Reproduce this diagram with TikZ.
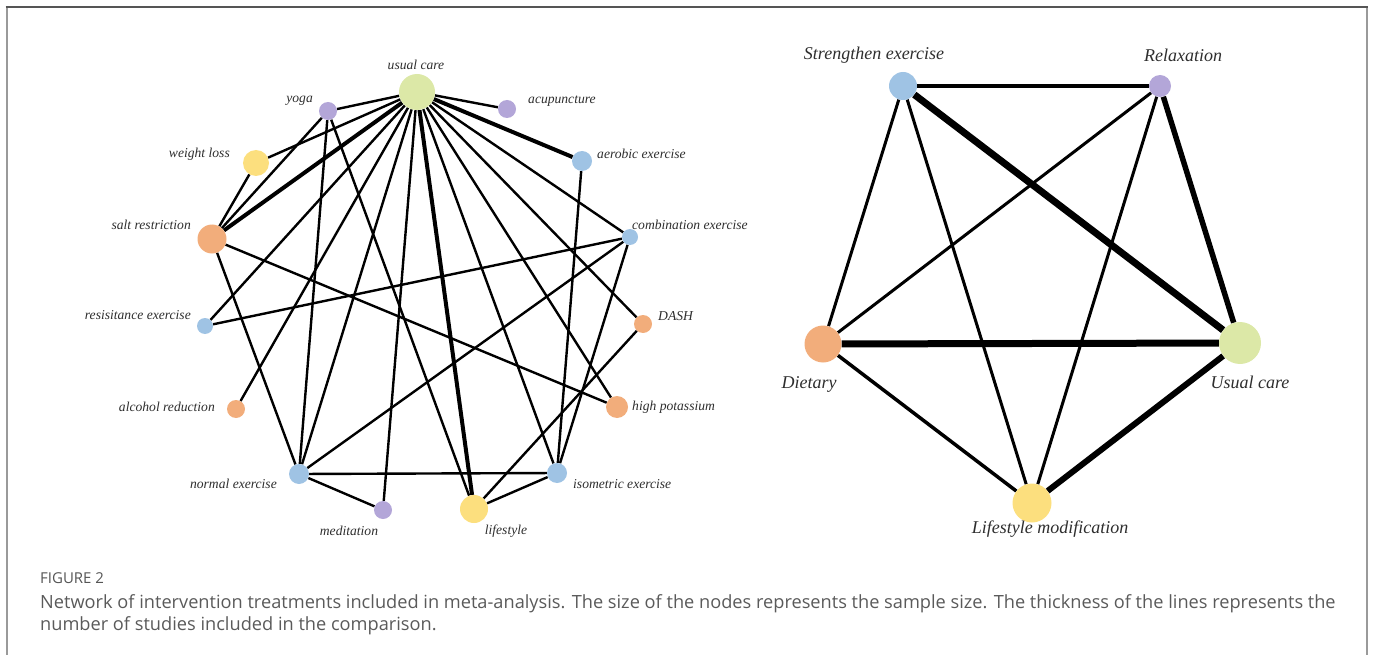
\documentclass[tikz,border=0pt]{standalone}
\usepackage{fontspec}
\setmainfont{Liberation Serif}
\newfontfamily\capfont{Open Sans}
\usetikzlibrary{backgrounds}
\definecolor{nblue}{HTML}{9FC3E4}
\definecolor{npurple}{HTML}{B3A6D8}
\definecolor{nyellow}{HTML}{FCDF7E}
\definecolor{norange}{HTML}{F2AD7B}
\definecolor{ngreen}{HTML}{DCE8A7}
\definecolor{labgray}{HTML}{2E2E2E}
\definecolor{capgray}{HTML}{5A5A5A}
\definecolor{framegray}{HTML}{9A9A9A}
\definecolor{frametop}{HTML}{555555}
\tikzset{
  vtx/.style={circle, inner sep=0pt, draw=none},
  lab/.style={font=\fontsize{13.6}{15}\selectfont\itshape, text=labgray, inner sep=0pt},
  rlab/.style={font=\fontsize{18}{20}\selectfont\itshape, text=labgray, inner sep=0pt},
  edge/.style={line width=2.4pt, black},
  thickedge/.style={line width=4pt, black},
  redge/.style={line width=3pt, black},
  captext/.style={font=\capfont\fontsize{18.2}{22}\selectfont, text=capgray, inner sep=0pt, align=left},
  figtext/.style={font=\capfont\fontsize{15}{18}\selectfont, text=frametop, inner sep=0pt}
}
\begin{document}
\begin{tikzpicture}[x=1pt,y=-1pt]
\useasboundingbox (0,0) rectangle (1373,655);
% frame
\draw[framegray, line width=2pt] (6.5,7) -- (6.5,655);
\draw[framegray, line width=2pt] (1367,7) -- (1367,655);
\draw[frametop, line width=1.5pt] (5.5,7) -- (1368,7);

% ---------- left network: nodes ----------
\node[vtx, fill=ngreen,  minimum size=36pt] (uc)   at (417,92) {};
\node[vtx, fill=npurple, minimum size=18pt] (yoga) at (328,111) {};
\node[vtx, fill=npurple, minimum size=18pt] (acu)  at (507,109) {};
\node[vtx, fill=nyellow, minimum size=26pt] (wl)   at (256,163) {};
\node[vtx, fill=nblue,   minimum size=20pt] (aer)  at (582,161) {};
\node[vtx, fill=norange, minimum size=29pt] (salt) at (212,239) {};
\node[vtx, fill=nblue,   minimum size=16pt] (comb) at (630,237) {};
\node[vtx, fill=nblue,   minimum size=16pt] (res)  at (205,326) {};
\node[vtx, fill=norange, minimum size=18pt] (dash) at (643,324) {};
\node[vtx, fill=norange, minimum size=18pt] (alc)  at (236,409) {};
\node[vtx, fill=norange, minimum size=22pt] (hk)   at (617,407) {};
\node[vtx, fill=nblue,   minimum size=20pt] (norm) at (299,474) {};
\node[vtx, fill=nblue,   minimum size=20pt] (iso)  at (557,473) {};
\node[vtx, fill=npurple, minimum size=18pt] (med)  at (383,510) {};
\node[vtx, fill=nyellow, minimum size=28pt] (life) at (474,509) {};

% ---------- left network: labels ----------
\node[lab] (luc) at (416,65) {usual care};
\node[lab, anchor=east] (lyoga) at (313,101) {yoga};
\node[lab, anchor=west] (lacu) at (528,101) {acupuncture};
\node[lab, anchor=east] (lwl) at (230,154) {weight loss};
\node[lab, anchor=west] (laer) at (597,154) {aerobic exercise};
\node[lab, anchor=east] (lsalt) at (191,225) {salt restriction};
\node[lab, anchor=west] (lcomb) at (632,225) {combination exercise};
\node[lab, anchor=east] (lres) at (191,315) {resisitance exercise};
\node[lab, anchor=west] (ldash) at (658,316) {DASH};
\node[lab, anchor=east] (lalc) at (215,407) {alcohol reduction};
\node[lab, anchor=west] (lhk) at (632,407) {high potassium};
\node[lab, anchor=east] (lnorm) at (277,484) {normal exercise};
\node[lab, anchor=west] (liso) at (573,484) {isometric exercise};
\node[lab] (lmed) at (349,531) {meditation};
\node[lab] (llife) at (506,531) {lifestyle};

% ---------- right network: nodes ----------
\node[vtx, fill=nblue,   minimum size=28pt] (se)  at (903,86) {};
\node[vtx, fill=npurple, minimum size=22pt] (rel) at (1160,86) {};
\node[vtx, fill=norange, minimum size=37pt] (die) at (823,344) {};
\node[vtx, fill=ngreen,  minimum size=42pt] (ruc) at (1240,343) {};
\node[vtx, fill=nyellow, minimum size=39pt] (lm)  at (1032,503) {};

% ---------- right network: labels ----------
\node[rlab] (lse) at (874,55) {Strengthen exercise};
\node[rlab] (lrel) at (1183,55) {Relaxation};
\node[rlab] (ldie) at (809,384) {Dietary};
\node[rlab] (lruc) at (1250,382) {Usual care};
\node[rlab] (llm) at (1050,529) {Lifestyle modification};

% ---------- edges ----------
\begin{scope}[on background layer]
\draw[edge] (uc) -- (yoga);
\draw[edge] (uc) -- (wl);
\draw[thickedge] (uc) -- (salt);
\draw[edge] (uc) -- (res);
\draw[edge] (uc) -- (alc);
\draw[edge] (uc) -- (norm);
\draw[edge] (uc) -- (med);
\draw[thickedge] (uc) -- (life);
\draw[edge] (uc) -- (iso);
\draw[edge] (uc) -- (hk);
\draw[edge] (uc) -- (dash);
\draw[edge] (uc) -- (comb);
\draw[thickedge] (uc) -- (aer);
\draw[edge] (uc) -- (acu);
\draw[edge] (yoga) -- (salt);
\draw[edge] (yoga) -- (norm);
\draw[edge] (yoga) -- (life);
\draw[edge] (wl) -- (salt);
\draw[edge] (salt) -- (norm);
\draw[edge] (salt) -- (hk);
\draw[edge] (res) -- (comb);
\draw[edge] (norm) -- (comb);
\draw[edge] (norm) -- (iso);
\draw[edge] (norm) -- (med);
\draw[edge] (comb) -- (iso);
\draw[edge] (aer) -- (iso);
\draw[edge] (dash) -- (life);
\draw[edge] (iso) -- (life);
% right
\draw[line width=4pt] (se) -- (rel);
\draw[line width=7pt] (se) -- (ruc);
\draw[redge] (se) -- (die);
\draw[redge] (se) -- (lm);
\draw[redge] (rel) -- (die);
\draw[redge] (rel) -- (lm);
\draw[line width=5.5pt] (rel) -- (ruc);
\draw[line width=7pt] (die) -- (ruc);
\draw[line width=3.5pt] (die) -- (lm);
\draw[line width=6pt] (lm) -- (ruc);
\end{scope}

% ---------- caption ----------
\node[figtext, anchor=base west] (fig) at (40,583) {FIGURE 2};
\node[captext, anchor=base west] (cap1) at (40,608) {Network of intervention treatments included in meta-analysis. The size of the nodes represents the sample size. The thickness of the lines represents the};
\node[captext, anchor=base west] (cap2) at (40,630) {number of studies included in the comparison.};
\end{tikzpicture}
\end{document}
